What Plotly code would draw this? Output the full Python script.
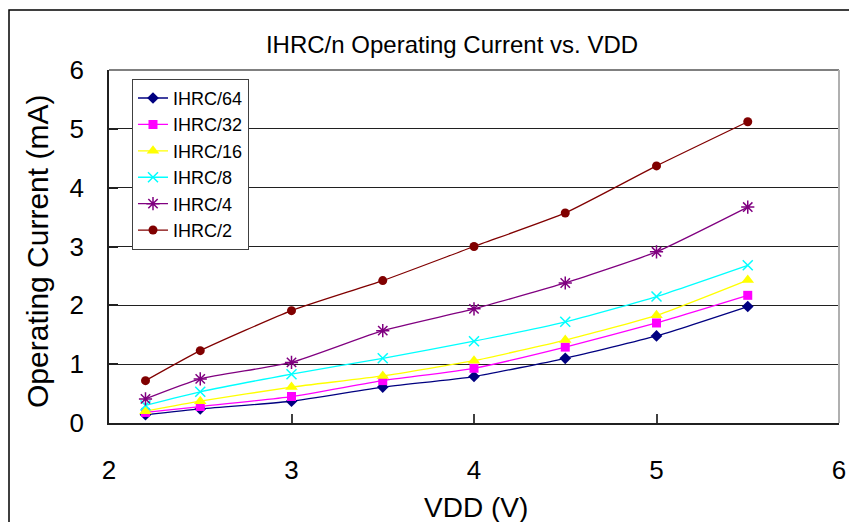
import plotly.graph_objects as go

vdd = [2.2, 2.5, 3, 3.5, 4, 4.5, 5, 5.5]
ihrc_64 = [0.14, 0.24, 0.37, 0.61, 0.79, 1.10, 1.48, 1.98]
ihrc_32 = [0.18, 0.28, 0.45, 0.72, 0.93, 1.29, 1.70, 2.17]
ihrc_16 = [0.20, 0.37, 0.61, 0.80, 1.06, 1.41, 1.83, 2.43]
ihrc_8 = [0.30, 0.53, 0.83, 1.10, 1.39, 1.72, 2.15, 2.68]
ihrc_4 = [0.41, 0.75, 1.03, 1.57, 1.94, 2.38, 2.91, 3.67]
ihrc_2 = [0.72, 1.23, 1.91, 2.42, 3.00, 3.57, 4.37, 5.12]

series = [
    ("IHRC/64", ihrc_64, "#000080", "diamond", 9),
    ("IHRC/32", ihrc_32, "#FF00FF", "square", 9),
    ("IHRC/16", ihrc_16, "#FFFF00", "triangle-up", 11),
    ("IHRC/8", ihrc_8, "#00FFFF", "x-thin", 10),
    ("IHRC/4", ihrc_4, "#800080", "asterisk", 11),
    ("IHRC/2", ihrc_2, "#800000", "circle", 9),
]

FONT = "Liberation Sans, Arial, sans-serif"

fig = go.Figure()
for name, ys, color, sym, size in series:
    marker = dict(symbol=sym, size=size, color=color)
    if sym in ("x-thin", "asterisk"):
        marker["line"] = dict(color=color, width=1.5)
    fig.add_trace(go.Scatter(
        x=vdd, y=ys, name=name, mode="lines+markers",
        line=dict(color=color, width=1.3, shape="spline", smoothing=0.5),
        marker=marker,
    ))

fig.update_layout(
    width=849, height=522,
    margin=dict(l=109, r=10, t=70, b=99, autoexpand=False),
    paper_bgcolor="white", plot_bgcolor="white",
    font=dict(family=FONT, color="black"),
    showlegend=True,
    legend=dict(
        x=0.0315, y=0.975, xanchor="left", yanchor="top",
        bgcolor="white", bordercolor="#404040", borderwidth=1,
        font=dict(size=18, family=FONT),
        tracegroupgap=0,
    ),
    title=dict(
        text="IHRC/n Operating Current vs. VDD",
        x=(452 - 109) / 730, xref="paper", xanchor="center",
        y=1 - 45 / 522, yref="container", yanchor="middle",
        font=dict(size=24, family=FONT, color="black"),
    ),
)

fig.update_xaxes(
    range=[2, 6], dtick=1, tick0=2, automargin=False,
    showgrid=False, zeroline=False,
    showline=True, linecolor="#202020", linewidth=1.5,
    ticks="inside", ticklen=9, tickcolor="#404040", tickwidth=1.5,
    tickfont=dict(size=26, family=FONT),
    ticklabelstandoff=23,
)
fig.update_yaxes(
    range=[0, 6], dtick=1, tick0=0, automargin=False,
    showgrid=True, gridcolor="#202020", gridwidth=1,
    zeroline=False,
    showline=True, linecolor="#202020", linewidth=1.5,
    ticks="inside", ticklen=9, tickcolor="#202020", tickwidth=1.5,
    tickfont=dict(size=26, family=FONT),
    ticklabelstandoff=18,
)

# axis titles
fig.add_annotation(
    text="VDD (V)", xref="paper", yref="paper",
    x=(476 - 109) / 730, y=-(507 - 423) / 353,
    xanchor="center", yanchor="middle", showarrow=False,
    font=dict(size=28, family=FONT, color="black"),
)
fig.add_annotation(
    text="Operating Current (mA)", xref="paper", yref="paper",
    x=(37 - 109) / 730, y=1 - (252 - 70) / 353, textangle=-90,
    xanchor="center", yanchor="middle", showarrow=False,
    font=dict(size=30, family=FONT, color="black"),
)

# plot frame top / right in gray
fig.add_shape(type="line", xref="paper", yref="paper", x0=0, x1=1, y0=1, y1=1,
              line=dict(color="#808080", width=2))
fig.add_shape(type="line", xref="paper", yref="paper", x0=1, x1=1, y0=0, y1=1,
              line=dict(color="#B0B0B0", width=2))
# outer chart border
fig.add_shape(type="rect", xref="paper", yref="paper",
              x0=(9 - 109) / 730, x1=1.05, y0=-0.35, y1=1 + (70 - 10) / 353,
              line=dict(color="black", width=1.5), fillcolor="rgba(0,0,0,0)", layer="below")

fig.write_html(
    "out.html",
    config={"displayModeBar": False},
    post_script="document.body.style.margin='0';document.body.style.overflow='hidden';",
)
